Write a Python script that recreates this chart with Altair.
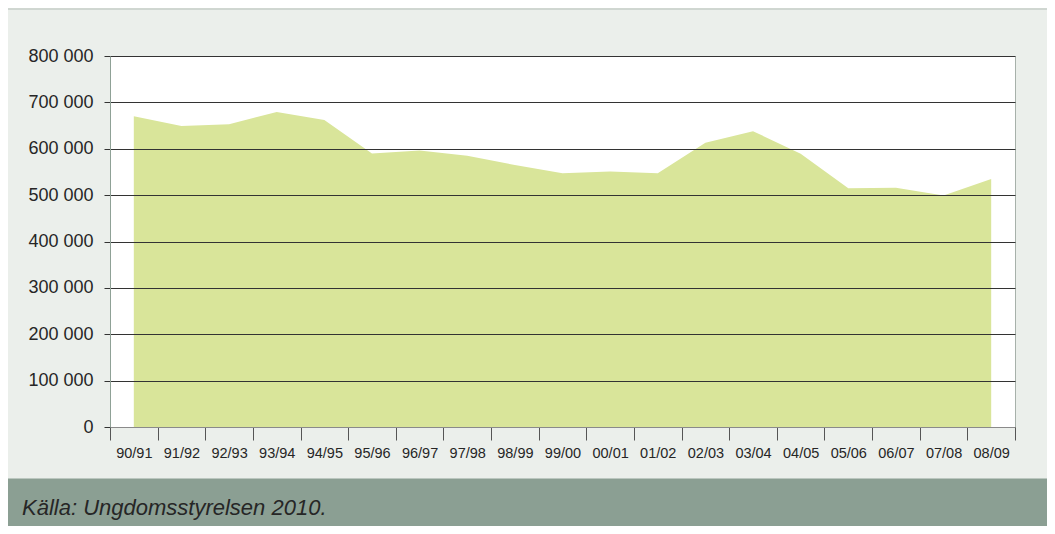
import altair as alt
import pandas as pd

# --- data ---
seasons = ["90/91", "91/92", "92/93", "93/94", "94/95", "95/96", "96/97", "97/98",
           "98/99", "99/00", "00/01", "01/02", "02/03", "03/04", "04/05", "05/06",
           "06/07", "07/08", "08/09"]
values = [670000, 649000, 653000, 679000, 662000, 590000, 596000, 585000,
          565000, 547000, 551000, 547000, 613000, 638000, 589000, 515000,
          516000, 499000, 535000]
y_ticks = [0, 100000, 200000, 300000, 400000, 500000, 600000, 700000, 800000]
source_text = "Källa: Ungdomsstyrelsen 2010."

PANEL = "#EBEFEB"
FOOTER = "#8B9F93"
AREA = "#D9E59A"
FONT = "Liberation Sans"

W, H = 905, 371
PAD_L, PAD_T = 102, 48
CANVAS_W, CANVAS_H = 1039, 518

df = pd.DataFrame({"season": seasons, "value": values})
one = pd.DataFrame({"k": [0]})

area = alt.Chart(df).mark_area(color=AREA, opacity=1).encode(
    x=alt.X("season:N", sort=seasons,
            scale=alt.Scale(type="band", paddingInner=0, paddingOuter=0),
            axis=alt.Axis(title=None, labelAngle=0, tickBand="extent", grid=False,
                          tickSize=13, tickColor="#555555", tickWidth=1,
                          domainColor="#8A8A8A", labelFontSize=14.5,
                          labelColor="#262626", labelFont=FONT, labelPadding=6,
                          zindex=1)),
    y=alt.Y("value:Q", scale=alt.Scale(domain=[0, 800000], nice=False),
            axis=alt.Axis(title=None, values=y_ticks, grid=True, gridColor="#333333",
                          gridWidth=1.2, tickSize=6, tickColor="#333333",
                          domainColor="#8FA196", labelFontSize=18,
                          labelColor="#262626", labelFont=FONT, labelPadding=11,
                          labelExpr="replace(format(datum.value, ','), ',', ' ')",
                          zindex=1)),
)

footer = alt.Chart(one).mark_rect(color=FOOTER).encode(
    x=alt.value(-PAD_L), x2=alt.value(CANVAS_W - PAD_L),
    y=alt.value(422.5), y2=alt.value(CANVAS_H - PAD_T),
)

top_border = alt.Chart(one).mark_rule(color="#B4BEB7", strokeWidth=1).encode(
    x=alt.value(-PAD_L), x2=alt.value(CANVAS_W - PAD_L), y=alt.value(-47),
)

footer_text = alt.Chart(one).mark_text(
    align="left", baseline="alphabetic", fontStyle="italic", fontSize=22,
    font=FONT, color="#262626",
).encode(x=alt.value(-88), y=alt.value(459), text=alt.value(source_text))

chart = alt.layer(footer, top_border, area, footer_text).properties(
    width=W, height=H,
    autosize=alt.AutoSizeParams(type="none"),
    padding={"left": PAD_L, "top": PAD_T, "right": CANVAS_W - PAD_L - W,
             "bottom": CANVAS_H - PAD_T - H},
    background=PANEL,
).configure_view(fill="white", stroke="#A7B1AA", strokeWidth=1)

chart.save("out.html", embed_options={"renderer": "svg", "actions": False})
